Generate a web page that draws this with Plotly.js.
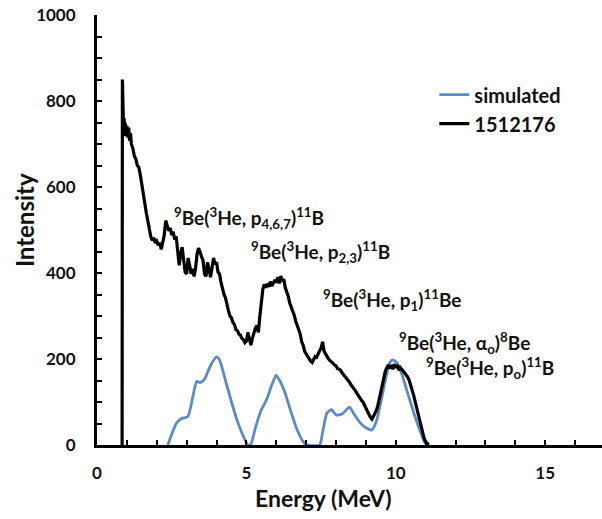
<!DOCTYPE html>
<html>
<head>
<meta charset="utf-8">
<script src="https://cdn.plot.ly/plotly-3.0.1.min.js"></script>
<style>html,body{margin:0;padding:0;background:#fff;}#chart{width:602px;height:519px;}</style>
</head>
<body>
<div id="chart"></div>
<script>
// Measured spectrum 1512176
const measuredEnergy = [0.84,0.85,0.87,0.89,0.91,0.93,0.95,0.97,1.0,1.03,1.06,1.09,1.12,1.15,1.2,1.25,1.3,1.35,1.4,1.45,1.5,1.55,1.6,1.65,1.7,1.75,1.8,1.85,1.9,1.95,2.0,2.05,2.1,2.15,2.2,2.25,2.3,2.35,2.4,2.45,2.5,2.55,2.6,2.65,2.7,2.75,2.8,2.85,2.9,2.95,3.0,3.05,3.1,3.15,3.2,3.25,3.3,3.35,3.4,3.45,3.5,3.55,3.6,3.65,3.7,3.75,3.8,3.85,3.9,3.95,4.0,4.05,4.1,4.15,4.2,4.25,4.3,4.35,4.4,4.45,4.5,4.55,4.6,4.65,4.7,4.75,4.8,4.85,4.9,4.95,5.0,5.05,5.1,5.15,5.2,5.25,5.3,5.35,5.4,5.45,5.5,5.55,5.6,5.65,5.7,5.75,5.8,5.85,5.9,5.95,6.0,6.05,6.1,6.15,6.2,6.25,6.3,6.35,6.4,6.45,6.5,6.55,6.6,6.65,6.7,6.75,6.8,6.85,6.9,6.95,7.0,7.05,7.1,7.15,7.2,7.25,7.3,7.35,7.4,7.45,7.5,7.55,7.6,7.65,7.7,7.75,7.8,7.85,7.9,7.95,8.0,8.05,8.1,8.15,8.2,8.25,8.3,8.35,8.4,8.45,8.5,8.55,8.6,8.65,8.7,8.75,8.8,8.85,8.9,8.95,9.0,9.05,9.1,9.15,9.2,9.25,9.3,9.35,9.4,9.45,9.5,9.55,9.6,9.65,9.7,9.75,9.8,9.85,9.9,9.95,10.0,10.05,10.1,10.15,10.2,10.25,10.3,10.35,10.4,10.45,10.5,10.55,10.6,10.65,10.7,10.75,10.8,10.85,10.9,10.95,11.0,11.05,11.1];
const measuredIntensity = [0,850,790,735,760,718,748,722,742,715,738,708,725,700,690,672,665,650,646,628,602,585,562,540,518,498,485,476,482,470,474,465,470,455,468,488,522,510,498,505,488,496,478,485,452,418,445,460,430,402,398,435,418,398,410,392,412,445,458,448,442,428,398,392,425,402,390,412,435,420,425,402,398,378,362,350,342,322,312,300,296,285,280,268,266,258,255,248,245,238,242,262,250,232,248,262,272,278,262,300,335,362,374,366,375,368,380,370,376,384,378,390,376,393,380,386,366,358,346,330,322,310,302,288,278,266,258,240,232,218,212,204,200,195,192,198,206,204,212,218,226,240,218,212,205,200,196,194,190,186,184,178,176,174,168,164,160,154,150,146,140,136,130,126,120,114,110,104,100,92,86,78,72,64,60,66,74,80,92,108,128,148,162,172,180,186,178,186,176,188,180,186,174,180,176,172,168,164,158,150,140,128,115,100,86,70,55,40,26,15,7,2,0];

// Simulated spectrum
const simEnergy = [2.37,2.5,2.67,2.85,3.04,3.2,3.34,3.45,3.6,3.8,4.0,4.1,4.3,4.5,4.7,4.9,5.05,5.15,5.3,5.5,5.6,5.7,5.85,6.0,6.15,6.3,6.5,6.7,6.9,7.05,7.45,7.55,7.7,7.85,8.0,8.2,8.45,8.6,8.8,9.0,9.2,9.35,9.5,9.65,9.8,9.9,10.05,10.2,10.4,10.6,10.8,10.95,11.05];
const simIntensity = [0,25,52,62,66,110,148,145,153,185,205,198,150,100,55,20,0,2,40,82,95,110,140,162,145,120,75,35,8,0,0,30,75,82,70,72,88,72,52,40,35,55,100,150,192,198,190,165,120,75,35,8,0];

const seriesNames = ["simulated", "1512176"];
const xTickVals = [0,5,10,15];
const yTickVals = [0,200,400,600,800,1000];

const reactionLabels = [
  "<sup>9</sup>Be(<sup>3</sup>He, p<sub>4,6,7</sub>)<sup>11</sup>B",
  "<sup>9</sup>Be(<sup>3</sup>He, p<sub>2,3</sub>)<sup>11</sup>B",
  "<sup>9</sup>Be(<sup>3</sup>He, p<sub>1</sub>)<sup>11</sup>Be",
  "<sup>9</sup>Be(<sup>3</sup>He, \u03b1<sub>o</sub>)<sup>8</sup>Be",
  "<sup>9</sup>Be(<sup>3</sup>He, p<sub>o</sub>)<sup>11</sup>B"
];
const labelEnergy = [2.5, 5.08, 7.49, 10.04, 10.94];
const labelIntensity = [528, 449, 337, 237, 179];

const FONT = "Lato, 'Open Sans', sans-serif";

const traces = [
  {x: simEnergy, y: simIntensity, name: seriesNames[0], type: 'scatter', mode: 'lines',
   line: {color: '#5b8bc6', width: 2.8, shape: 'spline', smoothing: 0.6}},
  {x: measuredEnergy, y: measuredIntensity, name: seriesNames[1], type: 'scatter', mode: 'lines',
   line: {color: '#000000', width: 3.2}}
];

const annotations = reactionLabels.map((t, i) => ({
  x: labelEnergy[i], y: labelIntensity[i], xref: 'x', yref: 'y',
  text: '<b>' + t + '</b>', showarrow: false, xanchor: 'left', yanchor: 'middle',
  font: {family: FONT, size: 19, color: '#111'}
}));
annotations.push({x: 0.4495, y: -0.123, xref: 'paper', yref: 'paper', text: '<b>Energy (MeV)</b>',
  showarrow: false, xanchor: 'center', yanchor: 'middle', font: {family: FONT, size: 23, color: '#111'}});
annotations.push({x: -0.1446, y: 0.523, xref: 'paper', yref: 'paper', text: '<b>Intensity</b>', textangle: -90,
  showarrow: false, xanchor: 'center', yanchor: 'middle', font: {family: FONT, size: 24, color: '#111'}});

const layout = {
  width: 602, height: 519,
  margin: {l: 97, r: 0, t: 15, b: 74},
  paper_bgcolor: '#fff', plot_bgcolor: '#fff',
  showlegend: true,
  legend: {x: 0.668, y: 0.86, xanchor: 'left', yanchor: 'top', bgcolor: 'rgba(0,0,0,0)',
    font: {family: FONT, size: 20, color: '#111', weight: 'bold'}, tracegroupgap: 0},
  xaxis: {range: [0, 16.9], tickvals: xTickVals, ticks: 'inside', ticklen: 5, tickwidth: 2, tickcolor: '#000',
    showline: true, linecolor: '#000', linewidth: 3, showgrid: false, zeroline: false,
    minor: {dtick: 1, ticks: 'inside', ticklen: 5, tickwidth: 2, tickcolor: '#000', showgrid: false},
    tickfont: {family: FONT, size: 17, color: '#111', weight: 'bold'}, ticklabelstandoff: 11},
  yaxis: {range: [0, 1000], tickvals: yTickVals, ticks: 'inside', ticklen: 5, tickwidth: 2, tickcolor: '#000',
    showline: true, linecolor: '#000', linewidth: 3, showgrid: false, zeroline: false,
    minor: {dtick: 50, ticks: 'inside', ticklen: 5, tickwidth: 2, tickcolor: '#000', showgrid: false},
    tickfont: {family: FONT, size: 17, color: '#111', weight: 'bold'}, ticklabelstandoff: 15},
  annotations: annotations
};

Plotly.newPlot('chart', traces, layout, {displayModeBar: false, staticPlot: true});
</script>
</body>
</html>
